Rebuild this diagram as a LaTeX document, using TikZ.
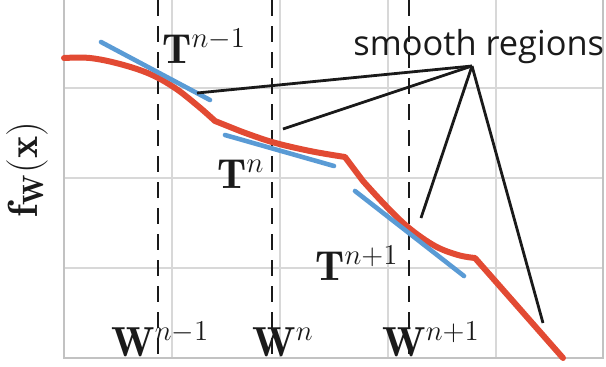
\documentclass[tikz,border=0pt]{standalone}
\usepackage{amsmath,amssymb}
\usepackage{fontspec}
\usetikzlibrary{arrows.meta,positioning,calc}
\newfontfamily\labelsans{Open Sans}
\definecolor{ink}{HTML}{1A1A1A}
\definecolor{curvered}{HTML}{E24A33}
\definecolor{tanblue}{HTML}{5A9BD5}
\definecolor{gridgray}{HTML}{D8D8D8}
\tikzset{
  every node/.style={font=\fontsize{21}{24}\selectfont,text=ink,inner sep=0},
  gridline/.style={draw=gridgray,line width=.8pt},
  frame/.style={draw=gridgray!90!black,line width=.9pt},
  curve/.style={draw=curvered,line width=3pt,line join=round,line cap=round},
  tangent/.style={draw=tanblue,line width=2.3pt,line cap=round},
  pointer/.style={draw=ink,line width=1.4pt},
  wdash/.style={draw=ink,line width=.7pt,dash pattern=on 8pt off 5pt}
}

\begin{document}
\begin{tikzpicture}[x=0.5pt,y=-0.5pt]
  \path[use as bounding box] (0,0) rectangle (606,366);
  % grid and frame
  \foreach \x in {172,280,388,496} {\draw[gridline] (\x,0) -- (\x,358);}
  \foreach \y in {88,178,268} {\draw[gridline] (64,\y) -- (603,\y);}
  \draw[frame] (64,0) -- (64,358) -- (603,358) -- (603,0);

  % weight positions
  \foreach \x in {158,272,409} {\draw[wdash] (\x,0) -- (\x,358);}

  % function
  \draw[curve] plot[smooth,tension=.6] coordinates {(64,58) (90,58) (120,64) (150,74) (175,88) (198,106) (215,121)}
    -- plot[smooth,tension=.6] coordinates {(240,131) (272,142) (310,151) (345,157)}
    -- plot[smooth,tension=.6] coordinates {(363,181) (386,206) (409,228) (435,246) (458,255) (475,258)}
    -- (563,358);

  % tangents
  \coordinate (t1a) at (101,42);  \coordinate (t1b) at (210,100);
  \coordinate (t2a) at (225,135); \coordinate (t2b) at (334,166);
  \coordinate (t3a) at (355,191); \coordinate (t3b) at (464,276);
  \draw[tangent] (t1a) -- (t1b);
  \draw[tangent] (t2a) -- (t2b);
  \draw[tangent] (t3a) -- (t3b);

  % labels
  \node[anchor=base west] (tprev) at (162,63) {$\mathbf{T}^{n-1}$};
  \node[anchor=base west] (tcur) at (217,188) {$\mathbf{T}^{n}$};
  \node[anchor=base west] (tnext) at (315,280) {$\mathbf{T}^{n+1}$};
  \node[anchor=base west] (wprev) at (111,356) {$\mathbf{W}^{n-1}$};
  \node[anchor=base west] (wcur) at (252,356) {$\mathbf{W}^{n}$};
  \node[anchor=base west] (wnext) at (382,356) {$\mathbf{W}^{n+1}$};
  \node[rotate=90] (ylab) at (27,170) {$\mathbf{f}_{\mathbf{W}}(\mathbf{x})$};
  \node[anchor=base west,font=\labelsans\fontsize{17.2}{20}\selectfont] (smooth) at (353,55) {smooth regions};

  % pointers
  \coordinate (hub) at (472,66);
  \coordinate (p1) at (197,93);
  \coordinate (p2) at (283,129);
  \coordinate (p3) at (421,218);
  \coordinate (p4) at (543,323);
  \foreach \p in {p1,p2,p3,p4} {\draw[pointer] (hub) -- (\p);}
\end{tikzpicture}
\end{document}
